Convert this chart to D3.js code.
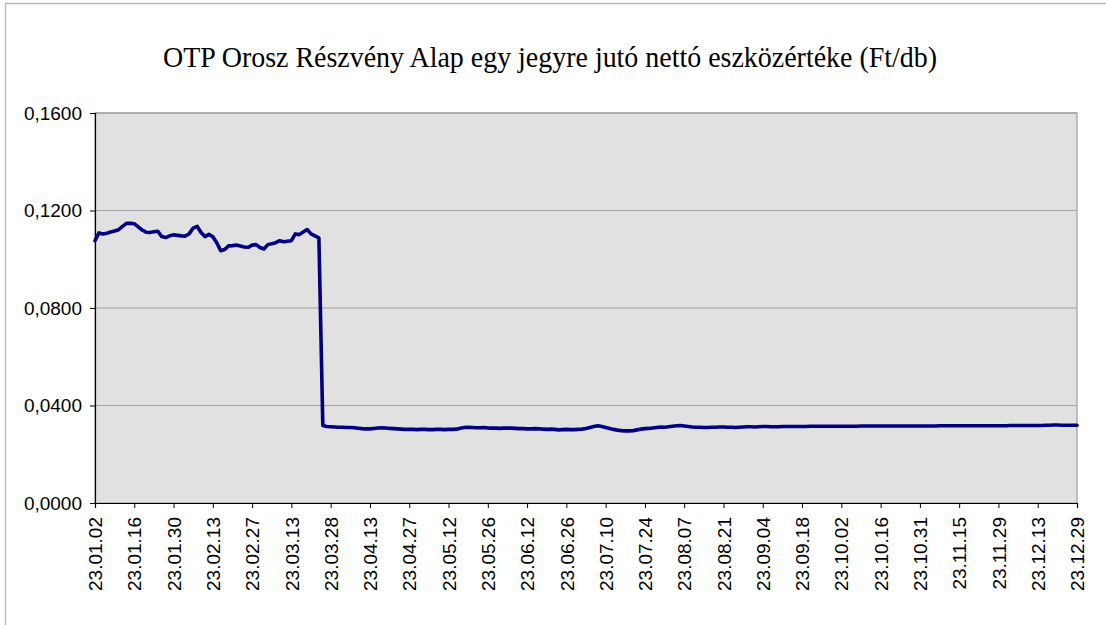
<!DOCTYPE html>
<html lang="hu">
    <head>
        <meta charset="utf-8">
        <title>OTP Orosz Részvény Alap</title>
        <script type="text/javascript" src="https://d3js.org/d3.v7.min.js"></script>
        <style>
        body{
            margin:0;
            background-color:white;
        }
        </style>
    </head>
    <body>
        <script type="text/javascript">

        let w = 1106;
        let h = 625;

        // daily values before the big drop (23.01.02 -> about 23.03.22)
        let preDrop = [
            0.1076, 0.1108, 0.1104, 0.1107, 0.1112, 0.1116, 0.1121, 0.1135, 0.1147, 0.1148,
            0.1146, 0.1133, 0.1120, 0.1111, 0.1110, 0.1113, 0.1115, 0.1093, 0.1089, 0.1096,
            0.1100, 0.1098, 0.1096, 0.1095, 0.1105, 0.1128, 0.1135, 0.1110, 0.1093, 0.1102,
            0.1092, 0.1068, 0.1035, 0.1040, 0.1055, 0.1056, 0.1058, 0.1054, 0.1050, 0.1049,
            0.1058, 0.1060, 0.1048, 0.1042, 0.1060, 0.1064, 0.1068, 0.1076, 0.1072, 0.1074,
            0.1076, 0.1104, 0.1101, 0.1112, 0.1122, 0.1104, 0.1096, 0.1088
        ];

        // after the drop, rest of the year
        let postDrop = [
            0.0318, 0.0314,
            0.0313, 0.0312, 0.0311, 0.0311, 0.0310, 0.0310, 0.0309, 0.0307, 0.0305, 0.0304,
            0.0304, 0.0306, 0.0308, 0.0309, 0.0308, 0.0306, 0.0305, 0.0304, 0.0303, 0.0302,
            0.0302, 0.0302, 0.0301, 0.0302, 0.0302, 0.0301, 0.0301, 0.0302, 0.0302, 0.0301,
            0.0302, 0.0302, 0.0303, 0.0307, 0.0310, 0.0311, 0.0310, 0.0309, 0.0309, 0.0310,
            0.0308, 0.0307, 0.0307, 0.0306, 0.0307, 0.0308, 0.0307, 0.0306, 0.0305, 0.0305,
            0.0304, 0.0304, 0.0305, 0.0304, 0.0303, 0.0302, 0.0303, 0.0302, 0.0300, 0.0301,
            0.0302, 0.0301, 0.0301, 0.0302, 0.0303, 0.0306, 0.0310, 0.0314, 0.0317, 0.0314,
            0.0310, 0.0306, 0.0302, 0.0299, 0.0297, 0.0296, 0.0296, 0.0297, 0.0300, 0.0303,
            0.0305, 0.0306, 0.0308, 0.0310, 0.0312, 0.0311, 0.0313, 0.0315, 0.0317, 0.0318,
            0.0316, 0.0314, 0.0312, 0.0311, 0.0311, 0.0310, 0.0310, 0.0311, 0.0311, 0.0312,
            0.0312, 0.0311, 0.0311, 0.0310, 0.0311, 0.0312, 0.0313, 0.0313, 0.0312, 0.0313,
            0.0314, 0.0314, 0.0313, 0.0313, 0.0313, 0.0314, 0.0314, 0.0314, 0.0314, 0.0314,
            0.0314, 0.0314, 0.0315, 0.0315, 0.0315, 0.0315, 0.0315, 0.0315, 0.0315, 0.0315,
            0.0315, 0.0315, 0.0315, 0.0315, 0.0315, 0.0316, 0.0316, 0.0316, 0.0316, 0.0316,
            0.0316, 0.0316, 0.0316, 0.0316, 0.0316, 0.0316, 0.0316, 0.0316, 0.0316, 0.0316,
            0.0316, 0.0316, 0.0316, 0.0316, 0.0316, 0.0317, 0.0317, 0.0317, 0.0317, 0.0317,
            0.0317, 0.0317, 0.0317, 0.0317, 0.0317, 0.0317, 0.0317, 0.0317, 0.0317, 0.0317,
            0.0317, 0.0317, 0.0317, 0.0318, 0.0318, 0.0318, 0.0318, 0.0318, 0.0318, 0.0318,
            0.0318, 0.0318, 0.0319, 0.0319, 0.0320, 0.0320, 0.0319, 0.0319, 0.0319, 0.0319,
            0.0319
        ];

        // every 10th trading day gets a label
        let tickLabels = ["23.01.02","23.01.16","23.01.30","23.02.13","23.02.27","23.03.13",
            "23.03.28","23.04.13","23.04.27","23.05.12","23.05.26","23.06.12","23.06.26",
            "23.07.10","23.07.24","23.08.07","23.08.21","23.09.04","23.09.18","23.10.02",
            "23.10.16","23.10.31","23.11.15","23.11.29","23.12.13","23.12.29"];
        let tickStep = 10;

        let yTicks = [0, 0.04, 0.08, 0.12, 0.16];

        let dataset = preDrop.concat(postDrop);

        // plot area edges (top is taken by window.top so use other names)
        let plotL = 95, plotR = 1077, plotT = 113, plotB = 503;

        //creates the canvas
        var svg = d3.select("body")
                    .append("svg")
                    .attr("width", w)
                    .attr("height", h);

        // outer chart frame (right and bottom run off the picture)
        svg.append("rect")
            .attr("x", 5.5)
            .attr("y", 3.5)
            .attr("width", 1300)
            .attr("height", 800)
            .attr("fill", "white")
            .attr("stroke", "#bcbcbc")
            .attr("stroke-width", 1.5);

        var x = d3.scaleLinear()
                .domain([0, dataset.length - 1])
                .range([plotL, plotR]);

        var y = d3.scaleLinear()
                .domain([0, 0.16])
                .range([plotB, plotT]);

        // gray plot area
        svg.append("rect")
            .attr("x", plotL)
            .attr("y", plotT)
            .attr("width", plotR - plotL)
            .attr("height", plotB - plotT)
            .attr("fill", "#e1e1e1")
            .attr("stroke", "#8c8c8c")
            .attr("stroke-width", 1);

        // horizontal grid lines
        svg.selectAll("line.grid")
            .data(yTicks.slice(1))
            .enter()
            .append("line")
            .attr("class", "grid")
            .attr("x1", plotL)
            .attr("x2", plotR)
            .attr("y1", function(d){ return y(d); })
            .attr("y2", function(d){ return y(d); })
            .attr("stroke", "#a0a0a0")
            .attr("stroke-width", 1.2);

        var fmt = function(d){
            return d3.format(".4f")(d).replace(".", ",");
        };

        // y axis
        var yAxis = d3.axisLeft(y)
                    .tickValues(yTicks)
                    .tickFormat(fmt)
                    .tickSize(5)
                    .tickPadding(8);

        var gy = svg.append("g")
            .attr("transform", "translate(" + plotL + ",0)")
            .call(yAxis);

        // x axis, tick on every 10th day
        var xTickIdx = tickLabels.map(function(d, i){ return i * tickStep; });
        var xAxis = d3.axisBottom(x)
                    .tickValues(xTickIdx)
                    .tickFormat(function(d){ return tickLabels[d / tickStep]; })
                    .tickSize(5)
                    .tickPadding(9);

        var gx = svg.append("g")
            .attr("transform", "translate(0," + plotB + ")")
            .call(xAxis);

        gx.selectAll("text")
            .attr("transform", "rotate(-90)")
            .attr("text-anchor", "end")
            .attr("x", -14)
            .attr("y", 0)
            .attr("dy", "0.35em");

        [gx, gy].forEach(function(g){
            g.selectAll("text")
                .attr("font-family", "'Liberation Sans', Arial, sans-serif")
                .attr("font-size", 19)
                .attr("fill", "black");
            g.selectAll("line").attr("stroke", "black");
            g.select(".domain").attr("stroke", "black").attr("stroke-width", 1.2);
        });

        // the line itself
        var line = d3.line()
            .x(function(d, i){ return x(i); })
            .y(function(d){ return y(d); });

        svg.append("path")
            .datum(dataset)
            .attr("d", line)
            .attr("fill", "none")
            .attr("stroke", "#000080")
            .attr("stroke-width", 3.6)
            .attr("stroke-linejoin", "round")
            .attr("stroke-linecap", "round");

        // title - original is squeezed narrow, so force the width
        svg.append("text")
            .attr("x", 550)
            .attr("y", 67)
            .attr("text-anchor", "middle")
            .attr("font-family", "'Liberation Serif', 'Times New Roman', serif")
            .attr("font-size", 30)
            .attr("textLength", 774)
            .attr("lengthAdjust", "spacingAndGlyphs")
            .text("OTP Orosz Részvény Alap egy jegyre jutó nettó eszközértéke (Ft/db)");

        </script>
    </body>
</html>
